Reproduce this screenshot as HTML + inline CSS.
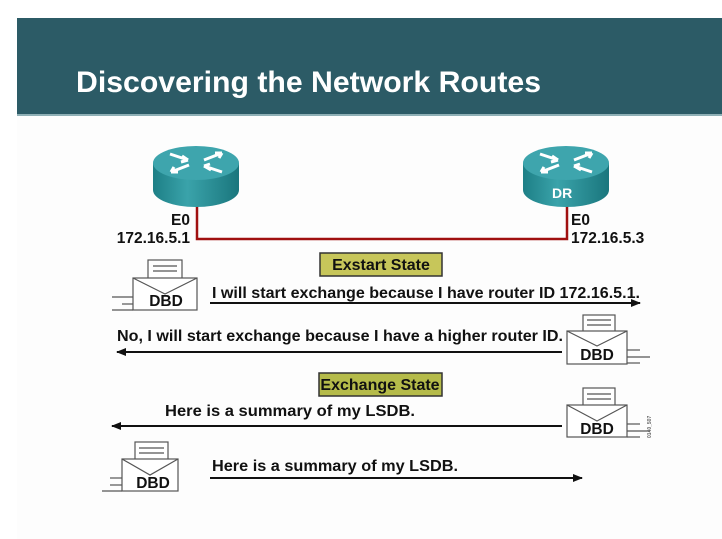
<!DOCTYPE html>
<html><head><style>
html,body{margin:0;padding:0;background:#fff;}
svg{display:block}
text{font-family:"Liberation Sans",Arial,sans-serif;font-weight:bold;}
</style></head><body>
<svg width="722" height="539" viewBox="0 0 722 539" xmlns="http://www.w3.org/2000/svg">
<defs>
<linearGradient id="rt" x1="0" x2="1" y1="0" y2="0">
<stop offset="0" stop-color="#1d7f86"/><stop offset="0.4" stop-color="#3aa3aa"/><stop offset="1" stop-color="#1a767d"/>
</linearGradient>
<g id="router">
<path d="M-43,0 L-43,27 A43,17 0 0 0 43,27 L43,0 Z" fill="url(#rt)"/>
<ellipse cx="0" cy="0" rx="43" ry="17" fill="#3ea5ad"/>
<g stroke="#fff" stroke-width="3" fill="none">
<path d="M-26,-9 L-8,-3"/><path d="M-8,-3 l-6,-4 M-8,-3 l-7,2"/>
<path d="M26,-10 L8,-3"/><path d="M26,-10 l-7,0 M26,-10 l-3,5"/>
<path d="M-25,9 L-7,2"/><path d="M-25,9 l7,0 M-25,9 l3,-5"/>
<path d="M26,9 L8,3"/><path d="M8,3 l7,4 M8,3 l6,-2"/>
</g>
</g>
<marker id="ah" markerWidth="10" markerHeight="8" refX="9" refY="4" orient="auto" markerUnits="userSpaceOnUse">
<path d="M0,0 L10,4 L0,8 Z" fill="#111"/></marker>
</defs>
<rect x="17" y="18" width="705" height="98" fill="#2c5b66"/>
<rect x="17" y="114" width="705" height="2" fill="#8fb0b6"/>
<rect x="17" y="116" width="705" height="423" fill="#fdfdfd"/>
<text x="76" y="92" font-size="30" fill="#fff" textLength="465" lengthAdjust="spacingAndGlyphs">Discovering the Network Routes</text>

<polyline points="197,205 197,239 567,239 567,205" fill="none" stroke="#a01010" stroke-width="2.5"/>
<use href="#router" x="196" y="163"/>
<use href="#router" x="566" y="163"/>
<text x="552" y="198" font-size="14" fill="#fff" font-weight="normal">DR</text>

<g font-size="15.5" fill="#111">
<text x="190" y="225" text-anchor="end">E0</text>
<text x="190" y="243" text-anchor="end">172.16.5.1</text>
<text x="571" y="225">E0</text>
<text x="571" y="243">172.16.5.3</text>
</g>

<rect x="320" y="253" width="122" height="23" fill="#c7c65a" stroke="#333" stroke-width="1.5"/>
<text x="381" y="270" font-size="16" fill="#111" text-anchor="middle">Exstart State</text>
<rect x="319" y="373" width="123" height="23" fill="#b5bb4a" stroke="#333" stroke-width="1.5"/>
<text x="380" y="390" font-size="16" fill="#111" text-anchor="middle">Exchange State</text>

<g stroke="#555" stroke-width="1.2" fill="#fff">
<rect x="148" y="260" width="34" height="20"/><line x1="153" y1="266" x2="177" y2="266"/><line x1="153" y1="271" x2="177" y2="271"/>
<rect x="133" y="278" width="64" height="32"/><polyline points="133,278 165,294 197,278" fill="none"/>
<line x1="112" y1="297" x2="133" y2="297"/><line x1="122" y1="304" x2="133" y2="304"/><line x1="112" y1="310" x2="133" y2="310"/>
<rect x="583" y="315" width="32" height="17"/><line x1="587" y1="320" x2="611" y2="320"/><line x1="587" y1="325" x2="611" y2="325"/>
<rect x="567" y="331" width="60" height="33"/><polyline points="567,331 597,346 627,331" fill="none"/>
<line x1="627" y1="350" x2="640" y2="350"/><line x1="627" y1="357" x2="650" y2="357"/><line x1="627" y1="363" x2="640" y2="363"/>
<rect x="583" y="388" width="32" height="18"/><line x1="587" y1="394" x2="611" y2="394"/><line x1="587" y1="399" x2="611" y2="399"/>
<rect x="567" y="405" width="60" height="32"/><polyline points="567,405 597,421 627,405" fill="none"/>
<line x1="627" y1="424" x2="640" y2="424"/><line x1="627" y1="431" x2="650" y2="431"/><line x1="627" y1="437" x2="640" y2="437"/>
<rect x="135" y="442" width="33" height="19"/><line x1="139" y1="448" x2="164" y2="448"/><line x1="139" y1="453" x2="164" y2="453"/>
<rect x="122" y="459" width="56" height="32"/><polyline points="122,459 150,475 178,459" fill="none"/>
<line x1="110" y1="478" x2="122" y2="478"/><line x1="110" y1="485" x2="122" y2="485"/><line x1="102" y1="491" x2="122" y2="491"/>
</g>
<g font-size="15.5" fill="#111" text-anchor="middle">
<text x="166" y="306">DBD</text><text x="597" y="360">DBD</text><text x="597" y="434">DBD</text><text x="153" y="488">DBD</text>
</g>
<text x="651" y="438" font-size="5" fill="#666" font-weight="normal" transform="rotate(-90 651 438)">0140_507</text>

<g stroke="#111" stroke-width="2" fill="none">
<line x1="210" y1="303" x2="640" y2="303" marker-end="url(#ah)"/>
<line x1="562" y1="352" x2="117" y2="352" marker-end="url(#ah)"/>
<line x1="562" y1="426" x2="112" y2="426" marker-end="url(#ah)"/>
<line x1="210" y1="478" x2="582" y2="478" marker-end="url(#ah)"/>
</g>
<g font-size="16" fill="#111">
<text x="212" y="298" textLength="428" lengthAdjust="spacingAndGlyphs">I will start exchange because I have router ID 172.16.5.1.</text>
<text x="117" y="341" textLength="446" lengthAdjust="spacingAndGlyphs">No, I will start exchange because I have a higher router ID.</text>
<text x="165" y="416" textLength="250" lengthAdjust="spacingAndGlyphs">Here is a summary of my LSDB.</text>
<text x="212" y="471" textLength="246" lengthAdjust="spacingAndGlyphs">Here is a summary of my LSDB.</text>
</g>
</svg>
</body></html>
